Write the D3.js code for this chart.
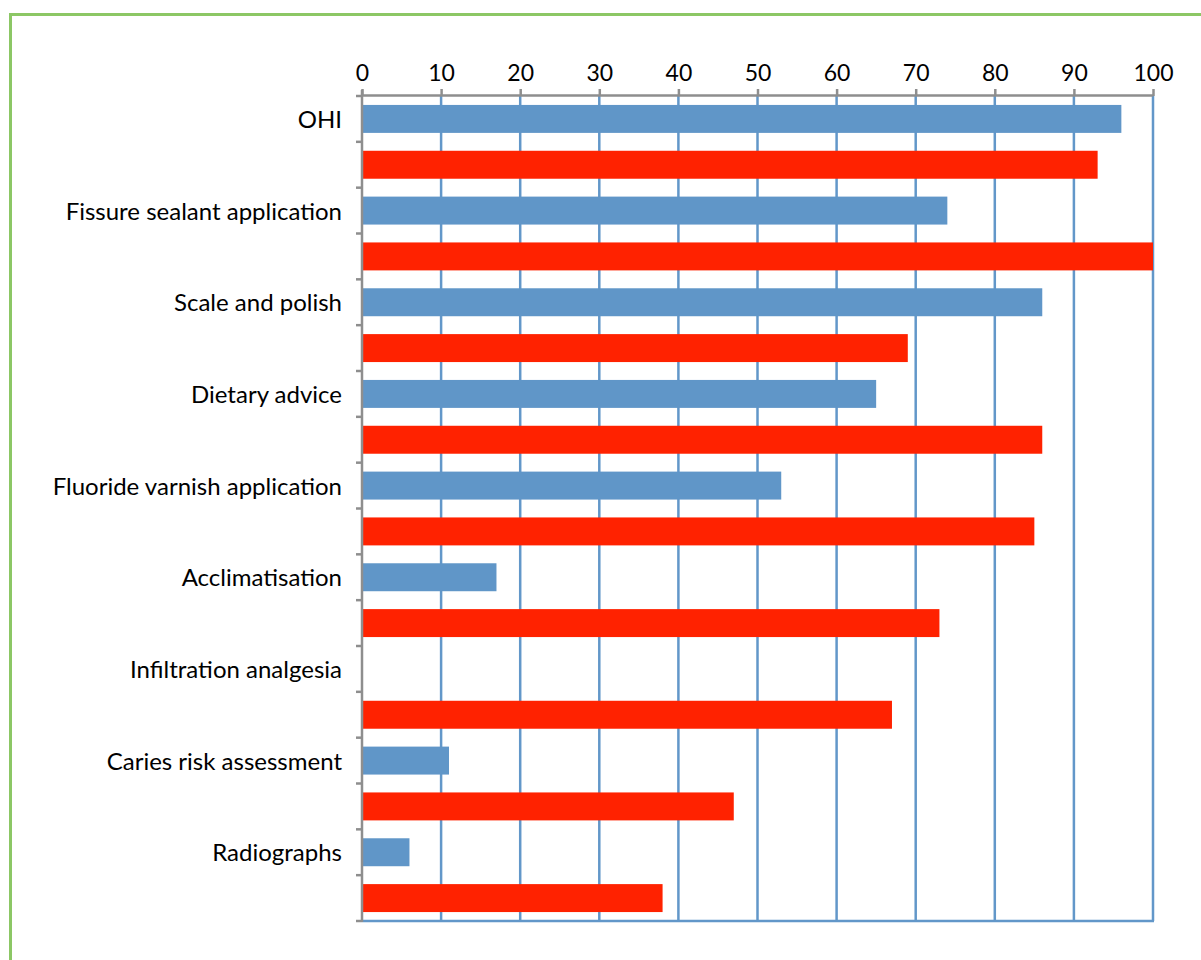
<!DOCTYPE html>
<html><head><meta charset="utf-8">
<script src="https://cdn.jsdelivr.net/npm/d3@7"></script>
<style>body{margin:0;background:#fff}svg{display:block}text{font-family:Lato,"Open Sans",sans-serif}</style>
</head><body>
<script>
const categories = ["OHI","Fissure sealant application","Scale and polish","Dietary advice","Fluoride varnish application","Acclimatisation","Infiltration analgesia","Caries risk assessment","Radiographs"];
const seriesBlue = [96,74,86,65,53,17,0,11,6];
const seriesRed = [93,100,69,86,85,73,67,47,38];
const tickValues = [0,10,20,30,40,50,60,70,80,90,100];

(function(){
const W=1201,H=960;
const svg=d3.select("body").append("svg").attr("width",W).attr("height",H);
svg.append("rect").attr("x",10.5).attr("y",14.5).attr("width",1300).attr("height",1300)
  .attr("fill","none").attr("stroke","#8cc765").attr("stroke-width",3);

const pL=362, pR=1153, pT=96, pB=921;
const x=d3.scaleLinear().domain([0,100]).range([pL,pR]);
const rows=[];
categories.forEach((c,i)=>{rows.push({key:c+"|b",v:seriesBlue[i],col:"#6096c8",cat:c,first:true});rows.push({key:c+"|r",v:seriesRed[i],col:"#ff2200",cat:c,first:false});});
const y=d3.scaleBand().domain(rows.map(r=>r.key)).range([pT,pB]).paddingInner(0.39).paddingOuter(0.195);
const yRow=d3.scaleBand().domain(rows.map(r=>r.key)).range([pT,pB]);

svg.append("g").selectAll("line").data(tickValues.slice(1)).join("line")
  .attr("x1",d=>x(d)).attr("x2",d=>x(d)).attr("y1",pT).attr("y2",pB)
  .attr("stroke","#6297c9").attr("stroke-width",2.5);
svg.append("line").attr("x1",pL).attr("x2",pR+1).attr("y1",pB).attr("y2",pB)
  .attr("stroke","#6297c9").attr("stroke-width",2.5);

svg.append("g").selectAll("rect").data(rows.filter(r=>r.v>0)).join("rect")
  .attr("x",x(0)).attr("y",d=>y(d.key)).attr("width",d=>x(d.v)-x(0)).attr("height",y.bandwidth())
  .attr("fill",d=>d.col);

const ax=svg.append("g").attr("transform",`translate(0,${pT})`)
  .call(d3.axisTop(x).tickValues(tickValues).tickSize(6).tickPadding(9).tickFormat(d3.format("d")));
ax.select(".domain").attr("stroke","#8e8e8e").attr("stroke-width",2.5).attr("d",`M${pL},-0.5H${pR}`);
ax.selectAll(".tick line").attr("stroke","#8e8e8e").attr("stroke-width",2.5).attr("y2",-7);
ax.selectAll(".tick text").attr("font-size",23).attr("fill","#000").attr("font-family","Lato,sans-serif");

const rowEdges=rows.map(r=>yRow(r.key)).concat([pB]);
svg.append("line").attr("x1",pL).attr("x2",pL).attr("y1",pT-6).attr("y2",pB+1)
  .attr("stroke","#8e8e8e").attr("stroke-width",2.5);
svg.append("g").selectAll("line").data(rowEdges).join("line")
  .attr("x1",pL-6).attr("x2",pL).attr("y1",d=>d).attr("y2",d=>d)
  .attr("stroke","#8e8e8e").attr("stroke-width",2.5);

svg.append("g").selectAll("text").data(rows.filter(r=>r.first)).join("text")
  .attr("x",pL-20).attr("y",d=>yRow(d.key)+yRow.bandwidth()/2).attr("dy","0.38em")
  .attr("text-anchor","end").attr("font-size",24).attr("fill","#000").text(d=>d.cat);
})();
</script>
</body></html>
